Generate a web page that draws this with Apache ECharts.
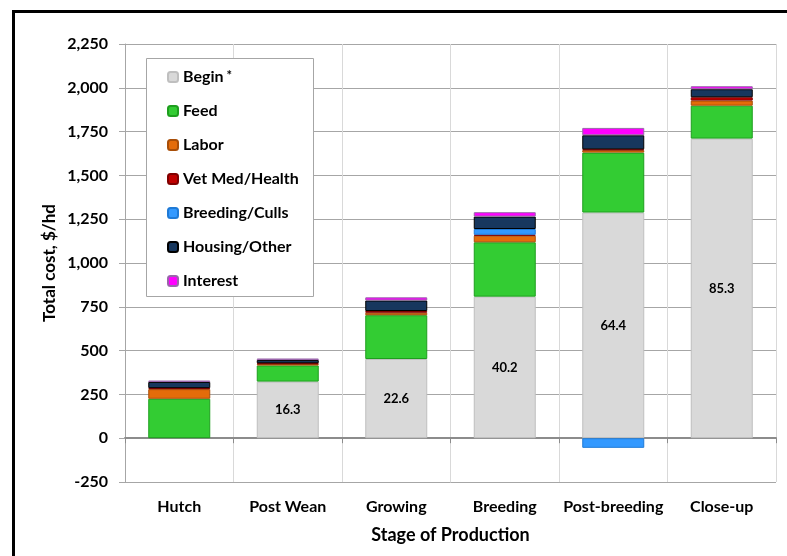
<!DOCTYPE html>
<html>
<head>
<meta charset="utf-8">
<script src="https://cdn.jsdelivr.net/npm/echarts@6/dist/echarts.min.js"></script>
<style>
html,body{margin:0;padding:0;background:#fff;}
#chart{width:787px;height:556px;}
</style>
</head>
<body>
<div id="chart"></div>
<script>
const categories = ['Hutch', 'Post Wean', 'Growing', 'Breeding', 'Post-breeding', 'Close-up'];
const yTicks = { min: -250, max: 2250, interval: 250 };

const begin    = [null, 323, 452, 808, 1288, 1710];
const feed     = [225, 92, 250, 310, 342, 188];
const labor    = [55, 8, 14, 38, 14, 29];
const vetMed   = [6, 5, 10, 5, 5, 19];
const breeding = [null, null, null, 33, -55, null];
const housing  = [35, 18, 60, 71, 80, 46];
const interest = [8, 9, 18, 25, 42, 17];
const beginLabels = ['', '16.3', '22.6', '40.2', '64.4', '85.3'];

const FONT = 'Lato';

function mk(name, data, color, border, extra) {
  return Object.assign({
    name: name,
    type: 'bar',
    stack: 'total',
    barWidth: 62,
    data: data,
    itemStyle: { color: color, borderColor: border, borderWidth: 1 },
    emphasis: { disabled: true }
  }, extra || {});
}

const chart = echarts.init(document.getElementById('chart'), null, { renderer: 'canvas' });
chart.setOption({
  animation: false,
  backgroundColor: '#ffffff',
  textStyle: { fontFamily: FONT },
  grid: { left: 125, top: 44, right: 11, bottom: 74, containLabel: false, outerBoundsMode: 'none' },
  graphic: [
    { type: 'rect', shape: { x: 13.5, y: 11.5, width: 820, height: 600 },
      style: { fill: 'none', stroke: '#000', lineWidth: 3 }, z: 10, silent: true },
    { type: 'rect', shape: { x: 146.5, y: 58.5, width: 167, height: 238 },
      style: { fill: '#fff', stroke: '#a6a6a6', lineWidth: 1 }, z: 3, silent: true }
  ],
  legend: {
    orient: 'vertical',
    left: 167,
    top: 69,
    padding: 0,
    itemWidth: 10,
    itemHeight: 10,
    itemGap: 18,
    z: 4,
    selectedMode: false,
    textStyle: {
      fontFamily: FONT, fontSize: 16, fontWeight: 'bold', color: '#000', lineHeight: 16,
      rich: { s: { fontFamily: FONT, fontSize: 13, fontWeight: 'bold', color: '#000', verticalAlign: 'top', lineHeight: 10, padding: [0, 0, 0, 3] } }
    },
    formatter: function (n) { return n === 'Begin' ? 'Begin{s|*}' : n; },
    data: ['Begin', 'Feed', 'Labor', 'Vet Med/Health', 'Breeding/Culls', 'Housing/Other', 'Interest']
  },
  xAxis: {
    type: 'category',
    data: categories,
    name: 'Stage of Production',
    nameLocation: 'middle',
    nameGap: 44,
    nameMoveOverlap: false,
    nameTextStyle: { fontFamily: FONT, fontSize: 18, fontWeight: 'bold', color: '#000' },
    axisLine: { onZero: true, lineStyle: { color: '#8c8c8c', width: 2 } },
    axisTick: { show: true, length: 5, lineStyle: { color: '#8c8c8c' } },
    axisLabel: { interval: 0, margin: 17, fontFamily: FONT, fontSize: 16, fontWeight: 'bold', color: '#000' },
    splitLine: { show: true, interval: 0, lineStyle: { color: '#d9d9d9', width: 1 } }
  },
  yAxis: {
    type: 'value',
    min: yTicks.min,
    max: yTicks.max,
    interval: yTicks.interval,
    name: 'Total cost, $/hd',
    nameLocation: 'middle',
    nameGap: 67,
    nameMoveOverlap: false,
    nameTextStyle: { fontFamily: FONT, fontSize: 17, fontWeight: 'bold', color: '#000' },
    axisLine: { show: true, lineStyle: { color: '#a6a6a6' } },
    axisTick: { show: true, length: 6, lineStyle: { color: '#a6a6a6' } },
    axisLabel: {
      margin: 17, fontFamily: FONT, fontSize: 16, fontWeight: 'bold', color: '#000',
      formatter: function (v) { return v.toLocaleString('en-US'); }
    },
    splitLine: { show: true, lineStyle: { color: '#a6a6a6', width: 1 } }
  },
  series: [
    mk('Begin', begin, '#d9d9d9', '#bfbfbf', {
      label: {
        show: true, position: 'inside', fontFamily: FONT, fontSize: 13, fontWeight: 'bold', color: '#000',
        formatter: function (p) { return beginLabels[p.dataIndex]; }
      }
    }),
    mk('Feed', feed, '#33cc33', '#1e9e1e'),
    mk('Labor', labor, '#e46c0a', '#a84e08'),
    mk('Vet Med/Health', vetMed, '#c00000', '#800000'),
    mk('Breeding/Culls', breeding, '#3399ff', '#1f7ad6'),
    mk('Housing/Other', housing, '#17375e', '#000000'),
    mk('Interest', interest, '#ff00ff', '#9966aa')
  ]
});
</script>
</body>
</html>
